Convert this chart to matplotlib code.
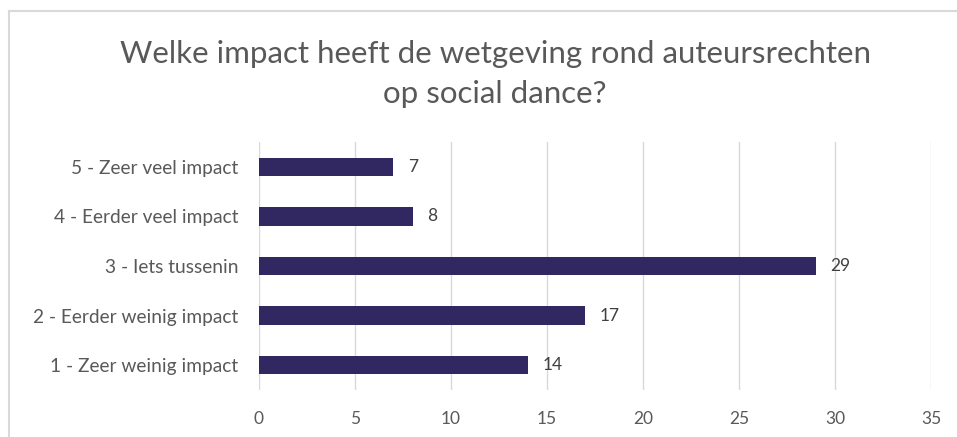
import matplotlib.pyplot as plt
from matplotlib.lines import Line2D

plt.rcParams['font.family'] = ['Lato', 'DejaVu Sans']

categories = ['1 - Zeer weinig impact', '2 - Eerder weinig impact', '3 - Iets tussenin',
              '4 - Eerder veel impact', '5 - Zeer veel impact']
counts = [14, 17, 29, 8, 7]
xticks = [0, 5, 10, 15, 20, 25, 30, 35]

W, H = 957, 437
fig = plt.figure(figsize=(W / 100, H / 100), dpi=100)

# chart border (only top and left edges visible in the crop)
fig.add_artist(Line2D([9 / W, 9 / W], [0, 1 - 11 / H], color='#D9D9D9', lw=1.5))
fig.add_artist(Line2D([9 / W, 1], [1 - 11 / H, 1 - 11 / H], color='#D9D9D9', lw=1.5))

ax = fig.add_axes([259 / W, 1 - 390 / H, (931 - 259) / W, (390 - 142) / H])
ypos = list(range(len(categories)))
bars = ax.barh(ypos, counts, height=0.37, color='#312862', zorder=3)
for b, v in zip(bars, counts):
    ax.text(b.get_width() + 0.75, b.get_y() + b.get_height() / 2, str(v),
            va='center', ha='left', fontsize=12.5, color='#404040')

ax.set_xlim(0, 35)
ax.set_ylim(-0.5, 4.5)
ax.set_xticks(xticks)
ax.set_yticks(ypos)
ax.set_yticklabels(categories)
ax.tick_params(axis='both', length=0, labelcolor='#595959')
ax.tick_params(axis='x', pad=15, labelsize=12.5)
ax.tick_params(axis='y', pad=15, labelsize=13.8)
ax.grid(axis='x', color='#D9D9D9', lw=1, zorder=0)
for s in ax.spines.values():
    s.set_visible(False)

fig.text(495 / W, 1 - 74 / H, 'Welke impact heeft de wetgeving rond auteursrechten\nop social dance?',
         ha='center', va='center', fontsize=22.5, color='#595959', linespacing=1.5)

fig.savefig('out.png', dpi=100)
